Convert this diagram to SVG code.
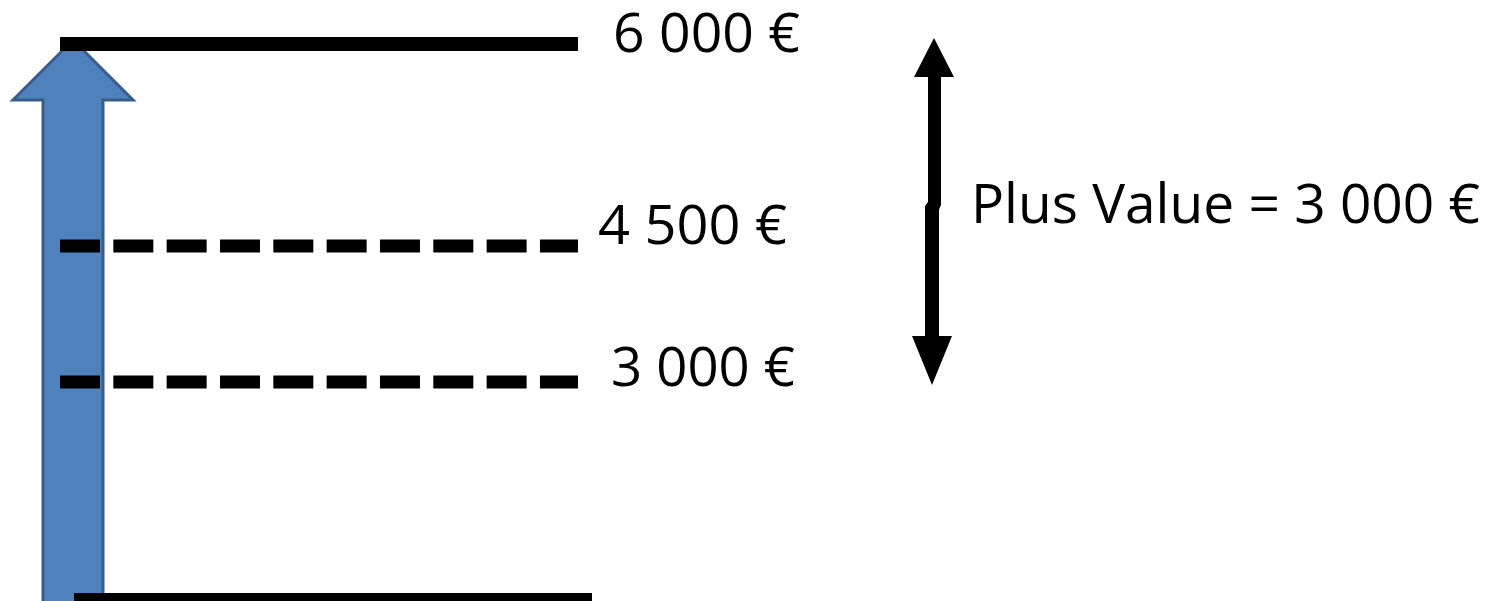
<svg xmlns="http://www.w3.org/2000/svg" width="1499" height="601" viewBox="0 0 1499 601">
  <style>
    .lbl { font-family: "Open Sans", "Liberation Sans", sans-serif; font-size: 55px; fill: #000; }
    .solid { stroke: #000; stroke-width: 14; fill: none; }
    .dash { stroke: #000; stroke-width: 13; fill: none; stroke-dasharray: 40 13.33; }
  </style>
  <rect width="1499" height="601" fill="#fff"/>
  <g id="blue-arrow">
    <polygon points="73,40 133,100 103,100 103,606 43,606 43,100 13,100" fill="#4f81bd" stroke="#385d8a" stroke-width="3" stroke-linejoin="miter"/>
  </g>
  <g id="levels">
    <line id="level-6000" class="solid" x1="60" y1="44" x2="578" y2="44"/>
    <line id="level-4500" class="dash" x1="60" y1="246" x2="578" y2="246"/>
    <line id="level-3000" class="dash" x1="60" y1="382" x2="578" y2="382"/>
    <line id="level-0" class="solid" x1="74" y1="600" x2="592" y2="600"/>
  </g>
  <g id="labels">
    <text class="lbl" x="613" y="52" textLength="187" lengthAdjust="spacingAndGlyphs">6 000 €</text>
    <text class="lbl" x="598" y="244" textLength="189" lengthAdjust="spacingAndGlyphs">4 500 €</text>
    <text class="lbl" x="611" y="386" textLength="184" lengthAdjust="spacingAndGlyphs">3 000 €</text>
  </g>
  <g id="connectors">
    <g id="plus-value-arrow" fill="#000">
      <polygon points="934,38 954,77 941,77 941,205 938,212 928,206 928,77 914,77"/>
      <polygon points="928,202 939,200 939,336 952,336 932,385 912,336 925,336 925,206"/>
    </g>
  </g>
  <g id="plus-value-label">
    <text class="lbl" x="971" y="223" textLength="509" lengthAdjust="spacingAndGlyphs">Plus Value = 3 000 €</text>
  </g>
</svg>
